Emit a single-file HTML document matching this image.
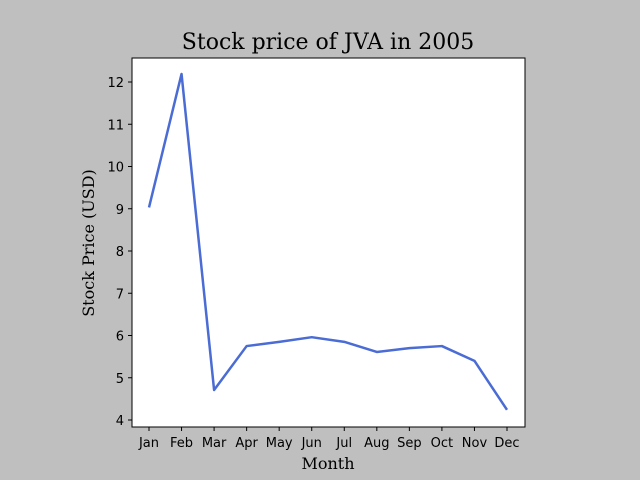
<!DOCTYPE html>
<html><head><meta charset="utf-8"><style>
body{margin:0;background:#bfbfbf;}
svg{display:block;}
text{font-family:"DejaVu Sans","Liberation Sans",sans-serif;font-size:13px;fill:#000;}
.serif{font-family:"DejaVu Serif","Liberation Serif",serif;}
</style></head><body>
<svg id="chart" width="640" height="480">
<rect width="640" height="480" fill="#bfbfbf"/>
<rect x="132" y="58" width="393" height="369" fill="#fff" stroke="#000" stroke-width="1"/>
<text class="serif" x="328" y="49" text-anchor="middle" style="font-size:22px">Stock price of JVA in 2005</text>
<text class="serif" x="328" y="469" text-anchor="middle" style="font-size:16px">Month</text>
<text class="serif" x="0" y="0" transform="translate(94,243) rotate(-90)" text-anchor="middle" style="font-size:16px">Stock Price (USD)</text>
<g id="axes"></g>
<g id="marks"></g>
</svg>
<script>
const months=["Jan","Feb","Mar","Apr","May","Jun","Jul","Aug","Sep","Oct","Nov","Dec"];
const prices=[9.03,12.19,4.71,5.75,5.85,5.96,5.85,5.61,5.70,5.75,5.40,4.24];
const yTicks=[4,5,6,7,8,9,10,11,12];
const NS="http://www.w3.org/2000/svg";
function xs(i){return 149+i*(358/11);}
function ys(v){return 420-(v-4)*42.25;}
const axes=document.getElementById('axes');
function mk(t,a,p){const e=document.createElementNS(NS,t);for(const k in a)e.setAttribute(k,a[k]);p.appendChild(e);return e;}
yTicks.forEach(v=>{
  const l=mk('line',{x1:128,x2:132,y1:ys(v),y2:ys(v),stroke:'#000'},axes);
  
  
  const t=mk('text',{x:124,y:ys(v)+5,'text-anchor':'end'},axes);t.textContent=v;
  
  
});
months.forEach((m,i)=>{
  const l=mk('line',{x1:xs(i),x2:xs(i),y1:427,y2:431,stroke:'#000'},axes);
  
  
  const t=mk('text',{x:xs(i),y:447,'text-anchor':'middle'},axes);t.textContent=m;
  
  
});
const pl=mk('polyline',{points:prices.map((v,i)=>xs(i)+','+ys(v)).join(' '),fill:'none',stroke:'#4a6cd4','stroke-width':2.5,'stroke-linejoin':'round'},document.getElementById('marks'));


</script>
</body></html>
